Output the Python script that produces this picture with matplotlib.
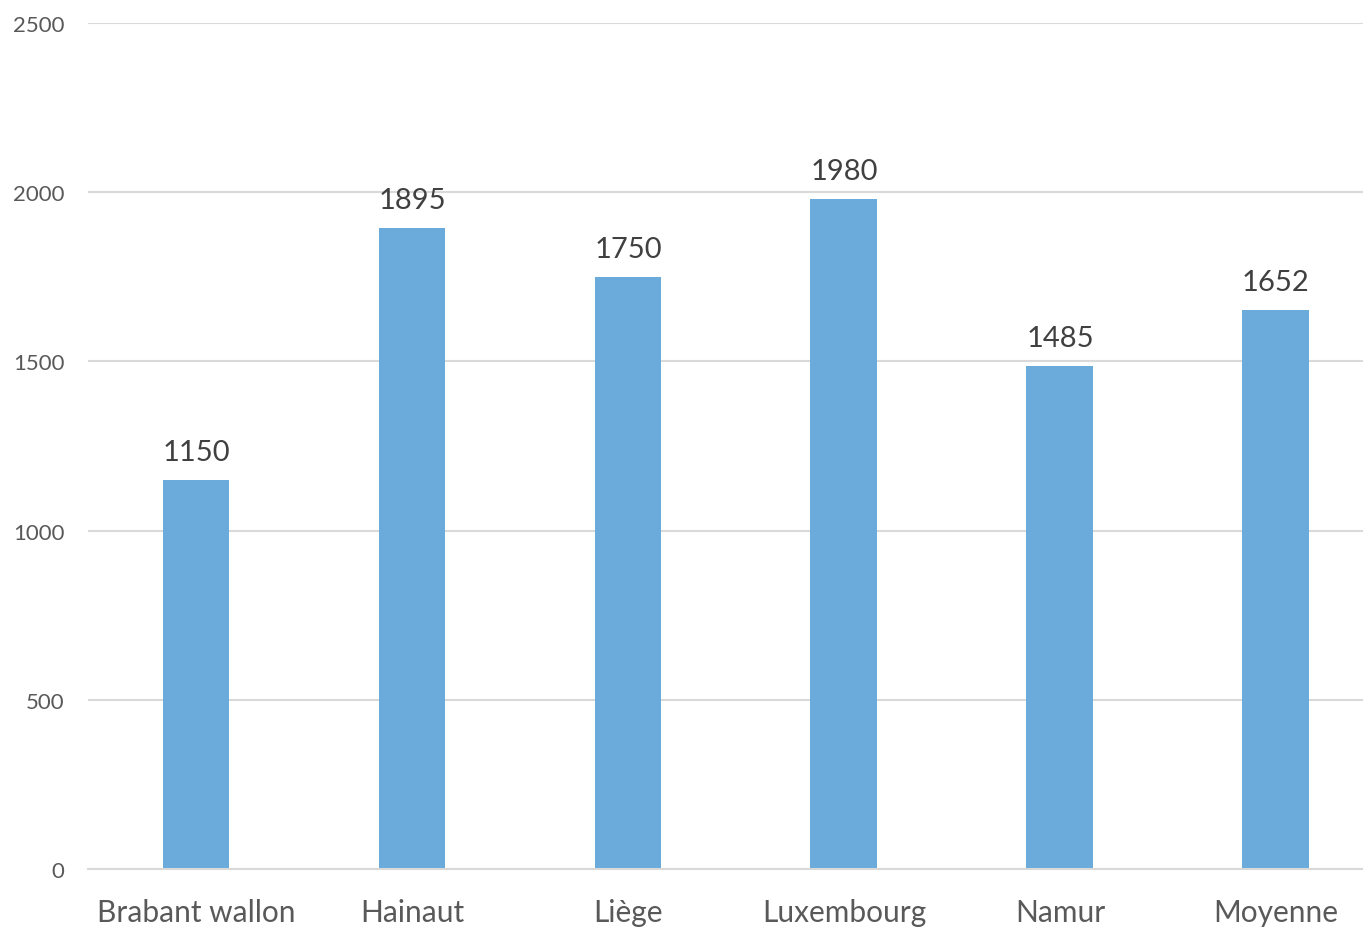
import matplotlib.pyplot as plt

plt.rcParams['font.family'] = ['Lato', 'DejaVu Sans']

provinces = ["Brabant wallon", "Hainaut", "Liège", "Luxembourg", "Namur", "Moyenne"]
values = [1150, 1895, 1750, 1980, 1485, 1652]
yticks = [0, 500, 1000, 1500, 2000, 2500]

fig = plt.figure(figsize=(13.63, 9.28), dpi=100)
ax = fig.add_axes([88 / 1363, 58 / 928, 1275 / 1363, 846 / 928])

x = range(len(provinces))
bars = ax.bar(x, values, width=0.31, color="#6BABDC", zorder=3)

# value labels above each bar
for xi, v in zip(x, values):
    ax.text(xi, v + 45, str(v), ha="center", va="bottom",
            fontsize=21, color="#404040")

ax.set_xlim(-0.5, 5.403)
ax.set_ylim(0, 2500)
ax.set_yticks(yticks)
ax.set_xticks(list(x))
ax.set_xticklabels(provinces, fontsize=21.5, color="#595959")
ax.tick_params(axis="y", labelsize=16, colors="#595959", length=0, pad=17)
ax.tick_params(axis="x", length=0, pad=21)

ax.grid(axis="y", color="#D9D9D9", linewidth=1.5, zorder=0)
for s in ["top", "right", "left"]:
    ax.spines[s].set_visible(False)
ax.spines["bottom"].set_color("#D9D9D9")
ax.spines["bottom"].set_linewidth(1.5)
ax.spines["bottom"].set_zorder(4)

fig.savefig("out.png", dpi=100)
